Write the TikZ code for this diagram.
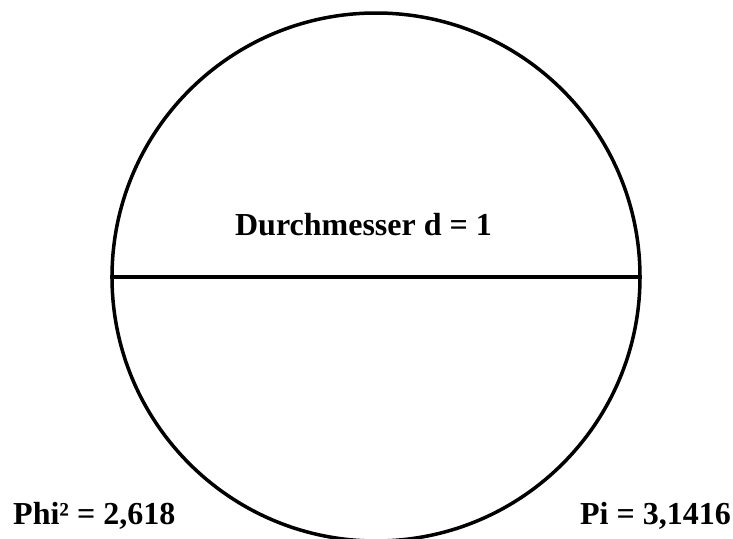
\documentclass[tikz,border=0pt]{standalone}
\usepackage{fontspec}
\setmainfont{Liberation Serif}
\begin{document}
\begin{tikzpicture}[x=1pt,y=-1pt,
  lbl/.style={inner sep=0pt,font=\fontsize{32}{37}\selectfont\bfseries}]
\useasboundingbox (0,0) rectangle (733,538);
\clip (0,0) rectangle (733,538);
\node[circle,draw,line width=3.5pt,minimum size=528pt,inner sep=0pt] (c) at (376,277) {};
\draw[line width=3.2pt] (c.west) -- (c.east);
\node[lbl,anchor=base] (d) at (363.5,235) {Durchmesser d = 1};
\node[lbl,anchor=base west] (phi) at (13,524) {Phi² = 2,618};
\node[lbl,anchor=base east] (pi) at (731,524) {Pi = 3,1416};
\end{tikzpicture}
\end{document}
